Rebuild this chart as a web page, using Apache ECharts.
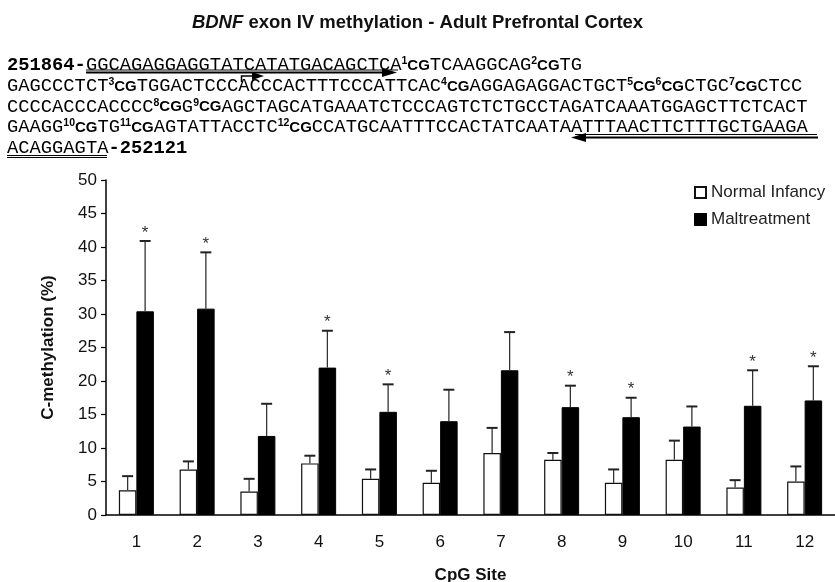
<!DOCTYPE html>
<html>
<head>
<meta charset="utf-8">
<script src="https://cdn.jsdelivr.net/npm/echarts@6/dist/echarts.min.js"></script>
<style>
  html, body { margin: 0; padding: 0; background: #fff; }
  #chart { width: 835px; height: 582px; }
</style>
</head>
<body>
<div id="chart"></div>
<script>
// CpG sites along BDNF exon IV
const sites = ['1', '2', '3', '4', '5', '6', '7', '8', '9', '10', '11', '12'];

// Mean % methylation and SEM per site
const normalInfancy    = [3.7, 6.8, 3.5, 7.7, 5.4, 4.8, 9.25, 8.25, 4.8, 8.25, 4.1, 5.0];
const normalInfancySem = [2.1, 1.2, 1.9, 1.15, 1.4, 1.8, 3.75, 1.0, 2.0, 2.85, 1.1, 2.25];
const maltreatment     = [30.4, 30.8, 11.8, 22.0, 15.4, 14.0, 21.6, 16.1, 14.6, 13.2, 16.3, 17.1];
const maltreatmentSem  = [10.5, 8.4, 4.8, 5.5, 4.1, 4.7, 5.7, 3.2, 2.9, 3.0, 5.3, 5.1];

// Sites where maltreatment differs significantly from normal infancy
const significant = [1, 1, 0, 1, 1, 0, 0, 1, 1, 0, 1, 1];

// Y axis ticks
const yTicks = [0, 5, 10, 15, 20, 25, 30, 35, 40, 45, 50];

const SANS = '"Liberation Sans", Arial, sans-serif';
const MONO = '"Liberation Mono", "Courier New", monospace';
const BAR_W = 17.5;

// Amplicon sequence rows (rich-text markup)
const seqRows = [
  '{b|251864-}{s|GGCAGAGGAGGTATCATATGACAGCTCA}{sup|1}{cg|CG}{s|TCAAGGCAG}{sup|2}{cg|CG}{s|TG}',
  '{s|GAGCCCTCT}{sup|3}{cg|CG}{s|TGGACTCCCACCCACTTTCCCATTCAC}{sup|4}{cg|CG}{s|AGGAGAGGACTGCT}{sup|5}{cg|CG}{sup|6}{cg|CG}{s|CTGC}{sup|7}{cg|CG}{s|CTCC}',
  '{s|CCCCACCCACCCC}{sup|8}{cg|CG}{s|G}{sup|9}{cg|CG}{s|AGCTAGCATGAAATCTCCCAGTCTCTGCCTAGATCAAATGGAGCTTCTCACT}',
  '{s|GAAGG}{sup|10}{cg|CG}{s|TG}{sup|11}{cg|CG}{s|AGTATTACCTC}{sup|12}{cg|CG}{s|CCATGCAATTTCCACTATCAATAATTTAACTTCTTTGCTGAAGA}',
  '{s|ACAGGAGTA}{b|-252121}'
];
const rowY = [66, 87, 107.5, 128, 148.5];

const seqRich = {
  s:   { fontFamily: MONO, fontSize: 18.8, color: '#666' },
  b:   { fontFamily: MONO, fontSize: 18.8, fontWeight: 'bold', color: '#111' },
  cg:  { fontFamily: SANS, fontSize: 15, fontWeight: 'bold', color: '#000' },
  sup: { fontFamily: SANS, fontSize: 10.5, fontWeight: 'bold', color: '#000', verticalAlign: 'top', lineHeight: 10 }
};

const graphics = seqRows.map((t, i) => ({
  type: 'text',
  left: 7,
  top: rowY[i] - 10,
  style: { text: t, rich: seqRich, verticalAlign: 'top' }
}));

// Primer underlines and arrows
function hline(x1, x2, y, w) {
  return { type: 'line', shape: { x1: x1, y1: y, x2: x2, y2: y }, style: { stroke: '#000', lineWidth: w } };
}
function tri(points) {
  return { type: 'polygon', shape: { points: points }, style: { fill: '#000' } };
}
graphics.push(
  hline(86, 398, 70, 1),
  hline(86, 386, 72.5, 2.2),
  tri([[382, 68], [397, 72.5], [382, 77]]),
  { type: 'polyline', shape: { points: [[241.5, 82], [241.5, 76], [255, 76]] }, style: { stroke: '#000', lineWidth: 1.5, fill: null } },
  tri([[252, 72], [264, 76], [252, 80]]),
  hline(575, 817, 134.5, 1),
  hline(584, 818, 137.5, 2.2),
  tri([[586, 133], [571, 137.5], [586, 142]]),
  hline(7, 107, 155.5, 1),
  hline(7, 107, 157.5, 1)
);

function errorSeries(name, values, sems, side) {
  return {
    type: 'custom',
    name: name + ' SEM',
    z: 5,
    silent: true,
    data: values.map((v, i) => [i, v, sems[i], side > 0 ? significant[i] : 0]),
    renderItem: function (params, api) {
      const idx = api.value(0);
      const val = api.value(1);
      const sem = api.value(2);
      const star = api.value(3);
      const base = api.coord([idx, val]);
      const top = api.coord([idx, val + sem]);
      const x = base[0] + side * BAR_W / 2;
      const children = [
        { type: 'line', shape: { x1: x, y1: base[1], x2: x, y2: top[1] }, style: { stroke: '#333', lineWidth: 1.3 } },
        { type: 'line', shape: { x1: x - 5.5, y1: top[1], x2: x + 5.5, y2: top[1] }, style: { stroke: '#222', lineWidth: 2 } }
      ];
      if (star) {
        children.push({
          type: 'text',
          style: { text: '*', x: x, y: top[1] - 8, align: 'center', verticalAlign: 'middle', fontFamily: SANS, fontSize: 17, fill: '#333' }
        });
      }
      return { type: 'group', children: children };
    }
  };
}

const chart = echarts.init(document.getElementById('chart'), null, { renderer: 'canvas' });
chart.setOption({
  animation: false,
  backgroundColor: '#fff',
  textStyle: { fontFamily: SANS },
  title: {
    text: '{i|BDNF} exon IV methylation - Adult Prefrontal Cortex',
    left: 'center',
    top: 8,
    textStyle: {
      fontFamily: SANS, fontSize: 18.5, fontWeight: 'bold', color: '#111',
      rich: { i: { fontFamily: SANS, fontSize: 18.5, fontWeight: 'bold', fontStyle: 'italic', color: '#111' } }
    }
  },
  graphic: graphics,
  legend: {
    orient: 'vertical',
    left: 694,
    top: 184,
    padding: 0,
    icon: 'rect',
    itemWidth: 11,
    itemHeight: 11,
    itemGap: 10,
    data: ['Normal Infancy', 'Maltreatment'],
    textStyle: { fontFamily: SANS, fontSize: 17, color: '#222', padding: [0, 0, 0, 0] }
  },
  grid: { left: 106, top: 180, width: 729, bottom: 67, containLabel: false, outerBoundsMode: 'none' },
  xAxis: {
    type: 'category',
    data: sites,
    name: 'CpG Site',
    nameLocation: 'middle',
    nameGap: 52,
    nameTextStyle: { fontFamily: SANS, fontSize: 17, fontWeight: 'bold', color: '#111' },
    axisLine: { lineStyle: { color: '#000', width: 1.5 } },
    axisTick: { show: false },
    axisLabel: { fontFamily: SANS, fontSize: 17, color: '#111', margin: 19 }
  },
  yAxis: {
    type: 'value',
    min: yTicks[0],
    max: yTicks[yTicks.length - 1],
    interval: 5,
    name: 'C-methylation (%)',
    nameLocation: 'middle',
    nameGap: 49,
    nameTextStyle: { fontFamily: SANS, fontSize: 17, fontWeight: 'bold', color: '#111' },
    axisLine: { show: true, lineStyle: { color: '#000', width: 1.5 } },
    axisTick: { show: true, length: 5, lineStyle: { color: '#000', width: 1.2 } },
    splitLine: { show: false },
    axisLabel: { fontFamily: SANS, fontSize: 17, color: '#111', margin: 9 }
  },
  series: [
    {
      name: 'Normal Infancy',
      type: 'bar',
      data: normalInfancy,
      barWidth: BAR_W,
      barGap: '0%',
      itemStyle: { color: '#fff', borderColor: '#111', borderWidth: 1.2 }
    },
    {
      name: 'Maltreatment',
      type: 'bar',
      data: maltreatment,
      barWidth: BAR_W,
      barGap: '0%',
      itemStyle: { color: '#000', borderColor: '#000', borderWidth: 1 }
    },
    errorSeries('Normal Infancy', normalInfancy, normalInfancySem, -1),
    errorSeries('Maltreatment', maltreatment, maltreatmentSem, 1)
  ]
});
</script>
</body>
</html>
